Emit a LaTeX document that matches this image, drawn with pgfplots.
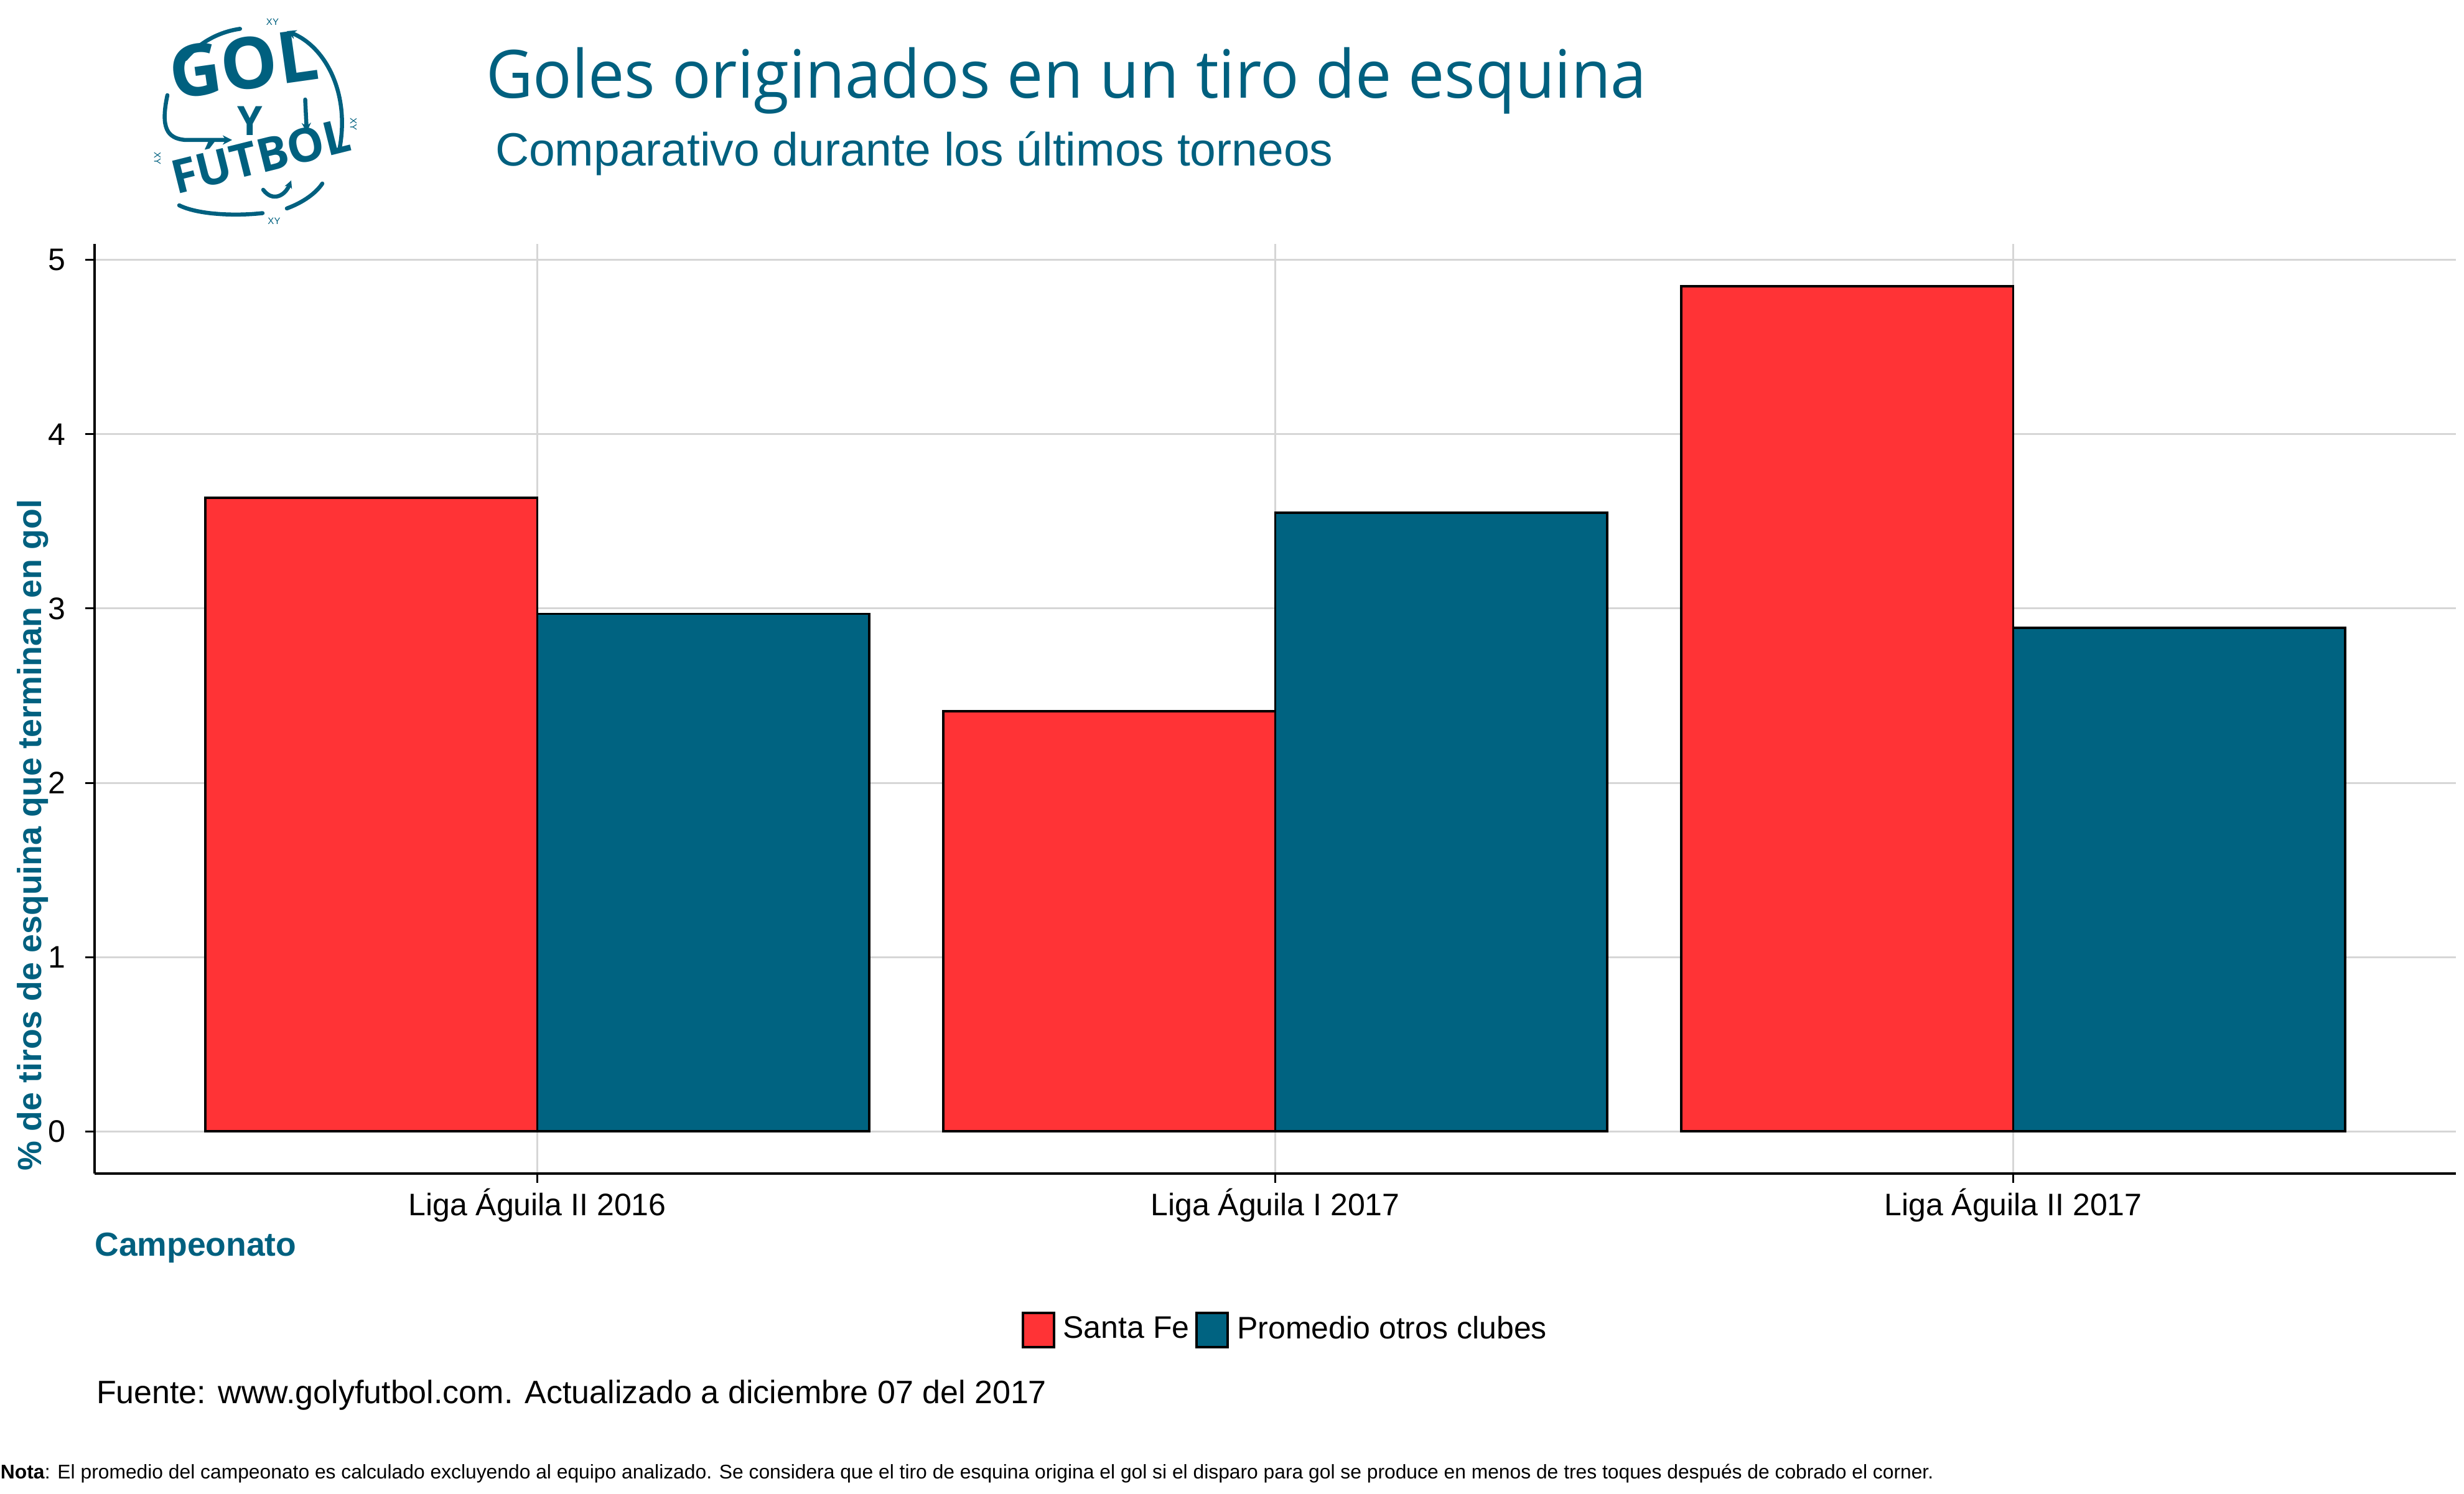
\documentclass[border=0pt]{standalone}
\usepackage{fontspec}
\setmainfont{Liberation Sans}
\newfontfamily\titlefont[FakeStretch=0.97]{Open Sans}
\newfontfamily\logofont{Open Sans}
\usepackage{pgfplots}
\pgfplotsset{compat=1.18}
\usetikzlibrary{arrows.meta}
\definecolor{tealc}{HTML}{00607F}
\definecolor{redc}{HTML}{FF3336}
\definecolor{bluec}{HTML}{006381}
\definecolor{gridc}{HTML}{D6D6D6}
\begin{document}
\begin{tikzpicture}
\path[use as bounding box] (0,0) rectangle (792pt,480pt);
\begin{axis}[
  at={(30.4pt,102.8pt)}, anchor=south west,
  scale only axis, width=759pt, height=298.8pt,
  xmin=-0.6, xmax=2.6, ymin=-0.2425, ymax=5.0925,
  xtick={0,1,2},
  xticklabels={Liga Águila II 2016, Liga Águila I 2017, Liga Águila II 2017},
  ytick={0,1,2,3,4,5}, yticklabels={0,1,2,3,4,5},
  axis x line*=bottom, axis y line*=left,
  axis line style={-, line width=0.9pt, black},
  tick align=outside, major tick length=3pt,
  tick style={black, line width=0.6pt},
  xmajorgrids, ymajorgrids,
  grid style={gridc, line width=0.6pt},
  x tick label style={anchor=base, yshift=-10.4pt, inner sep=0pt, font=\fontsize{10}{12}\selectfont},
  y tick label style={anchor=east, inner sep=0pt, font=\fontsize{10}{12}\selectfont},
  yticklabel shift=6.2pt,
  legend columns=2,
  legend style={at={(rel axis cs:0.3925,-0.168)}, anchor=west, draw=none, fill=none,
    inner sep=0pt, outer sep=0pt,
    nodes={inner sep=0pt, font=\fontsize{10}{12}\selectfont},
    /tikz/every odd column/.style={column sep=2.6pt},
    /tikz/every even column/.style={column sep=2pt}},
]
\addplot[ybar, bar width=0.45, bar shift=-0.225, fill=redc, draw=black, line width=0.7pt,
  legend image code/.code={\draw[fill=redc, draw=black, line width=0.8pt] (0pt,-5.5pt) rectangle (10pt,5.5pt);}]
  coordinates {(0,3.635) (1,2.41) (2,4.85)};
\addplot[ybar, bar width=0.45, bar shift=0.225, fill=bluec, draw=black, line width=0.7pt,
  legend image code/.code={\draw[fill=bluec, draw=black, line width=0.8pt] (0pt,-5.5pt) rectangle (10pt,5.5pt);}]
  coordinates {(0,2.97) (1,3.55) (2,2.89)};
\legend{Santa Fe, Promedio otros clubes}
\end{axis}
% titles
\node[anchor=base west, inner sep=0pt, text=tealc, font=\titlefont\fontsize{21.4}{24}\selectfont] at (156pt,448.5pt) {Goles originados en un tiro de esquina};
\node[anchor=base west, inner sep=0pt, text=tealc, font=\fontsize{15}{18}\selectfont] at (159pt,426.7pt) {Comparativo durante los últimos torneos};
% axis titles
\node[rotate=90, anchor=south west, inner sep=0pt, text=tealc, font=\bfseries\fontsize{10.75}{12}\selectfont] at (15.7pt,103.6pt) {\% de tiros de esquina que terminan en gol};
\node[anchor=base west, inner sep=0pt, text=tealc, font=\bfseries\fontsize{10.7}{12}\selectfont] at (30.3pt,76.4pt) {Campeonato};
% captions
\node[anchor=base west, inner sep=0pt, font=\fontsize{10.4}{12}\selectfont] at (30.8pt,29pt) {Fuente: www.golyfutbol.com. Actualizado a diciembre 07 del 2017};
\node[anchor=base west, inner sep=0pt, font=\fontsize{6.36}{7}\selectfont] at (0pt,4.7pt) {\textbf{Nota}: El promedio del campeonato es calculado excluyendo al equipo analizado. Se considera que el tiro de esquina origina el gol si el disparo para gol se produce en menos de tres toques después de cobrado el corner.};
% logo
\begin{scope}[shift={(81.6pt,442pt)}, tealc, line width=1.3pt, line cap=round]
  \begin{scope}[shift={(-26pt,6pt)}, rotate=8, transform shape,
      every node/.style={inner sep=0pt, outer sep=0pt, anchor=base west, font=\logofont\bfseries\fontsize{23}{23}\selectfont}]
    \node (g1) at (0,0) {G};
    \node (g2) at (g1.base east) {O};
    \node (g3) at (g2.base east) {L};
  \end{scope}
  \node[anchor=base, inner sep=0pt, font=\logofont\bfseries\fontsize{13}{13}\selectfont] at (-1.2pt,-5.6pt) {Y};
  \begin{scope}[shift={(-25pt,-24.5pt)}, rotate=14, transform shape,
      every node/.style={inner sep=0pt, outer sep=0pt, anchor=base west, font=\logofont\bfseries\fontsize{15}{15}\selectfont}]
    \node (f1) at (0,0) {F};
    \node (f2) at (f1.base east) {Ú};
    \node (f3) at (f2.base east) {T};
    \node (f4) at (f3.base east) {B};
    \node (f5) at (f4.base east) {O};
    \node (f6) at (f5.base east) {L};
  \end{scope}
  \draw (-22pt,19pt) arc (140:98:28pt);
  \draw[-{Stealth[length=3pt,width=3pt]}] (27.5pt,-10pt) .. controls (31pt,8pt) and (23pt,23pt) .. (10.6pt,28pt);
  \draw[-{Stealth[length=3pt,width=3pt]}] (16.5pt,6pt) -- (17pt,-4.5pt);
  \draw[-{Stealth[length=3pt,width=3pt]}] (-27.8pt,7.4pt) .. controls (-30pt,-3pt) and (-28pt,-6.5pt) .. (-22pt,-7pt) -- (-7pt,-7pt);
  \draw (-24pt,-28pt) .. controls (-18pt,-31pt) and (-6pt,-31.5pt) .. (2.8pt,-30.5pt);
  \draw (10.6pt,-29pt) .. controls (16pt,-27pt) and (20pt,-24pt) .. (22pt,-21pt);
  \draw[-{Stealth[length=2.5pt,width=2.5pt]}] (3pt,-23pt) .. controls (6pt,-27pt) and (10pt,-25pt) .. (12pt,-20pt);
  \node[font=\fontsize{3}{3}\selectfont, inner sep=0pt] at (6pt,31pt) {XY};
  \node[font=\fontsize{3}{3}\selectfont, inner sep=0pt] at (6.5pt,-33pt) {XY};
  \node[rotate=-90,font=\fontsize{3}{3}\selectfont, inner sep=0pt] at (32pt,-2pt) {XY};
  \node[rotate=-90,font=\fontsize{3}{3}\selectfont, inner sep=0pt] at (-31pt,-13pt) {XY};
\end{scope}
\end{tikzpicture}
\end{document}
